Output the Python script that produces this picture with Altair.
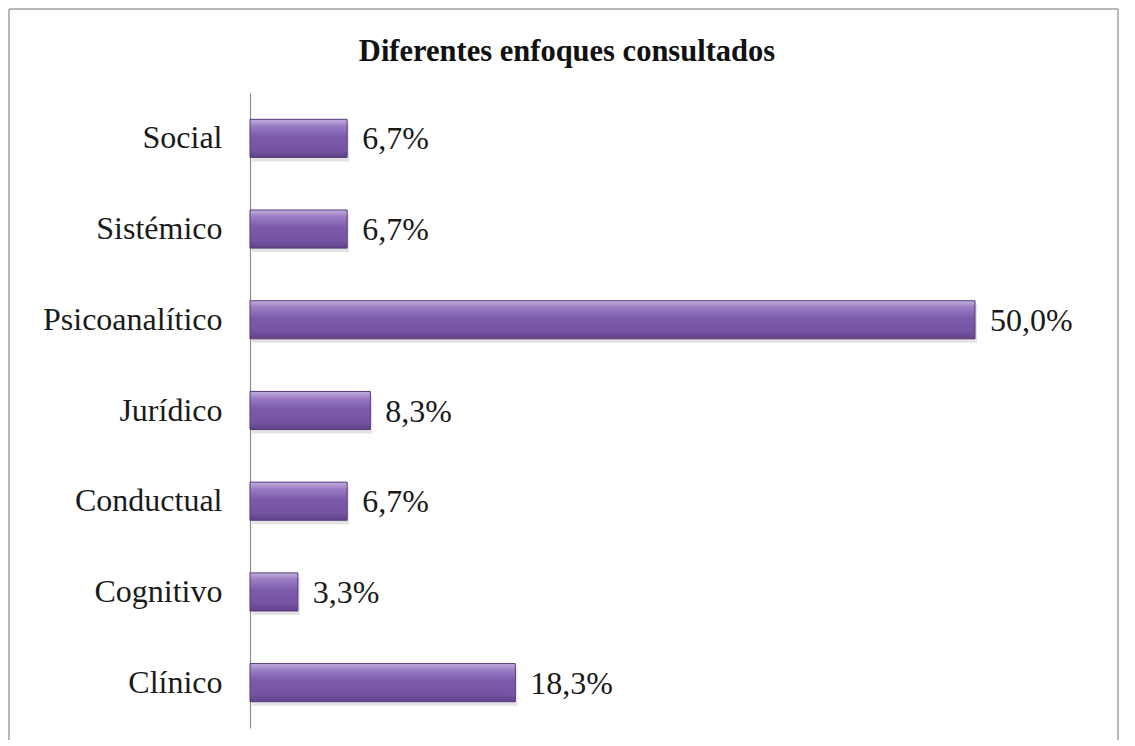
import altair as alt
import pandas as pd

categories = ["Social", "Sistémico", "Psicoanalítico", "Jurídico", "Conductual", "Cognitivo", "Clínico"]
values = [6.7, 6.7, 50.0, 8.3, 6.7, 3.3, 18.3]
title_text = "Diferentes enfoques consultados"

df = pd.DataFrame({
    "cat": categories,
    "val": values,
    "lab": [f"{v:.1f}".replace(".", ",") + "%" for v in values],
})

FONT = "Liberation Serif"
W, H = 725, 635

grad = alt.Gradient(
    gradient="linear",
    x1=0, x2=0, y1=0, y2=1,
    stops=[
        alt.GradientStop(color="#c2afdd", offset=0.0),
        alt.GradientStop(color="#9a7cc4", offset=0.18),
        alt.GradientStop(color="#7d5bab", offset=0.45),
        alt.GradientStop(color="#7654a3", offset=0.8),
        alt.GradientStop(color="#5f4288", offset=1.0),
    ],
)

y_enc = alt.Y(
    "cat:N",
    sort=categories,
    title=None,
    scale=alt.Scale(paddingInner=0.58, paddingOuter=0.29),
    axis=alt.Axis(
        domain=True, domainColor="#8c8c8c", domainWidth=1.2,
        ticks=False, labelFont=FONT, labelFontSize=32, labelColor="#1a1a1a",
        labelPadding=28, grid=False,
    ),
)
x_enc = alt.X("val:Q", scale=alt.Scale(domain=[0, 50]), axis=None)

shadow = alt.Chart(df).mark_bar(color="#c8c8c8", opacity=0.5, yOffset=4, xOffset=2).encode(
    x=x_enc, y=y_enc
)
bars = alt.Chart(df).mark_bar(fill=grad, stroke="#54397a", strokeWidth=1).encode(
    x=x_enc, y=y_enc
)
text = alt.Chart(df).mark_text(
    align="left", baseline="middle", dx=15, dy=1, font=FONT, fontSize=32, color="#1a1a1a"
).encode(x=x_enc, y=y_enc, text="lab:N")

frame_df = pd.DataFrame({"k": [0]})
left_line = alt.Chart(frame_df).mark_rule(color="#a0a0a0", strokeWidth=1.5).encode(
    x=alt.value(-241), y=alt.value(-84), y2=alt.value(H + 20)
)
top_line = alt.Chart(frame_df).mark_rule(color="#a0a0a0", strokeWidth=1.5).encode(
    x=alt.value(-241), x2=alt.value(868), y=alt.value(-84)
)
right_line = alt.Chart(frame_df).mark_rule(color="#a0a0a0", strokeWidth=1.5).encode(
    x=alt.value(868), y=alt.value(-84), y2=alt.value(H + 20)
)
title_mark = alt.Chart(frame_df).mark_text(
    font=FONT, fontSize=30.5, fontWeight="bold", color="#111111", align="center", baseline="middle"
).encode(x=alt.value(317), y=alt.value(-41), text=alt.value(title_text))

chart = alt.layer(shadow, bars, text, left_line, top_line, right_line, title_mark).properties(
    width=W, height=H,
    autosize=alt.AutoSizeParams(type="none"),
    padding={"left": 242, "top": 85, "right": 152, "bottom": 12},
).configure(background="white").configure_view(stroke=None, strokeWidth=0)

chart.save("out.html", embed_options={"renderer": "svg", "actions": False})
